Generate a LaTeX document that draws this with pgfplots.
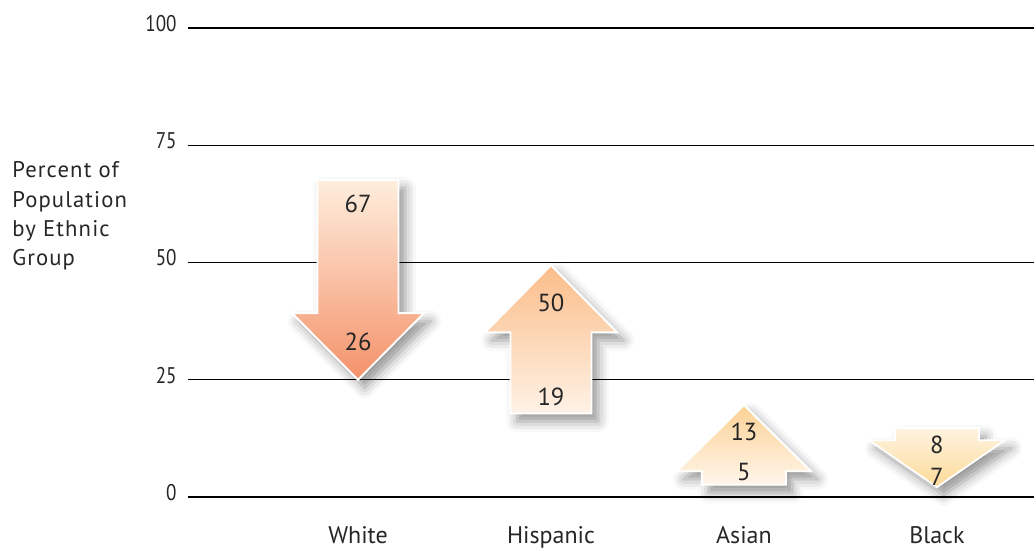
\documentclass[border=0pt]{standalone}
\usepackage{fontspec}
\setmainfont{PT Sans}
\newfontfamily\condensed[FakeStretch=0.84]{PT Sans}
\newfontfamily\tracked[LetterSpace=5]{PT Sans}
\usepackage{pgfplots}
\pgfplotsset{compat=1.18}
\usetikzlibrary{shadows.blur}

% arrow fills: light end / dark end
\definecolor{whiteLight}{HTML}{FEEEDD}
\definecolor{whiteDark}{HTML}{F4926A}
\definecolor{hispLight}{HTML}{FEF2E6}
\definecolor{hispDark}{HTML}{FBBD8A}
\definecolor{asianLight}{HTML}{FEF6EA}
\definecolor{asianDark}{HTML}{FDD195}
\definecolor{blackLight}{HTML}{FEF3E0}
\definecolor{blackDark}{HTML}{FDDA98}

\tikzset{
  block arrow/.style={draw=white, line width=1.4pt, line join=miter,
    blur shadow={shadow xshift=5pt, shadow yshift=-6pt,
      shadow blur radius=8pt, shadow opacity=42}},
  val/.style={font=\fontsize{18.5}{20}\selectfont, text=black!85, inner sep=0pt}
}

\begin{document}
\begin{tikzpicture}
\useasboundingbox (-141pt,-39.75pt) rectangle (634.5pt,372.75pt);
\begin{axis}[
  at={(0,0)}, anchor=south west,
  scale only axis, width=634.5pt, height=351.75pt,
  xmin=-0.881, xmax=3.503, ymin=0, ymax=100,
  clip=false,
  axis line style={draw=none},
  major tick length=0pt,
  ytick={0,25,50,75,100},
  ymajorgrids, grid style={black, line width=0.85pt},
  /pgf/number format/assume math mode=true,
  yticklabel style={font=\condensed\fontsize{17}{18}\selectfont,
    text=black!85, anchor=east, xshift=-5pt, yshift=3.4pt},
  xtick={0,1,2,3}, xticklabels={White,Hispanic,Asian,Black},
  xticklabel style={font=\fontsize{18}{20}\selectfont, text=black!85,
    anchor=base, yshift=-35pt},
]

% White: 67 -> 26 (down)
\addplot[block arrow, top color=whiteLight, bottom color=whiteDark]
  coordinates {(-0.21,67.6) (0.21,67.6) (0.21,39.2) (0.342,39.2)
               (0,25) (-0.342,39.2) (-0.21,39.2)} -- cycle;
% Hispanic: 19 -> 50 (up)
\addplot[block arrow, top color=hispDark, bottom color=hispLight]
  coordinates {(0.79,17.8) (1.21,17.8) (1.21,35.1) (1.342,35.1)
               (1,49.4) (0.658,35.1) (0.79,35.1)} -- cycle;
% Asian: 5 -> 13 (up)
\addplot[block arrow, top color=asianDark, bottom color=asianLight]
  coordinates {(1.782,2.6) (2.218,2.6) (2.218,5.5) (2.347,5.5)
               (2,19.6) (1.653,5.5) (1.782,5.5)} -- cycle;
% Black: 8 -> 7 (down)
\addplot[block arrow, top color=blackLight, bottom color=blackDark]
  coordinates {(2.782,14.7) (3.218,14.7) (3.218,12.1) (3.352,12.1)
               (3,2.1) (2.648,12.1) (2.782,12.1)} -- cycle;

% values written inside the arrows
\node[val] at (axis cs:0,62.6) {67};
\node[val] at (axis cs:0,33.0) {26};
\node[val] at (axis cs:1,41.3) {50};
\node[val] at (axis cs:1,21.3) {19};
\node[val] at (axis cs:2,13.9) {13};
\node[val] at (axis cs:2,5.4) {5};
\node[val] at (axis cs:3,11.1) {8};
\node[val] at (axis cs:3,4.3) {7};
\end{axis}

\node[anchor=north west, align=left, inner sep=0pt, text=black!85,
      font=\tracked\fontsize{17}{22}\selectfont]
  at (-132pt,251.5pt) {Percent of\\Population\\by Ethnic\\Group};
\end{tikzpicture}
\end{document}
